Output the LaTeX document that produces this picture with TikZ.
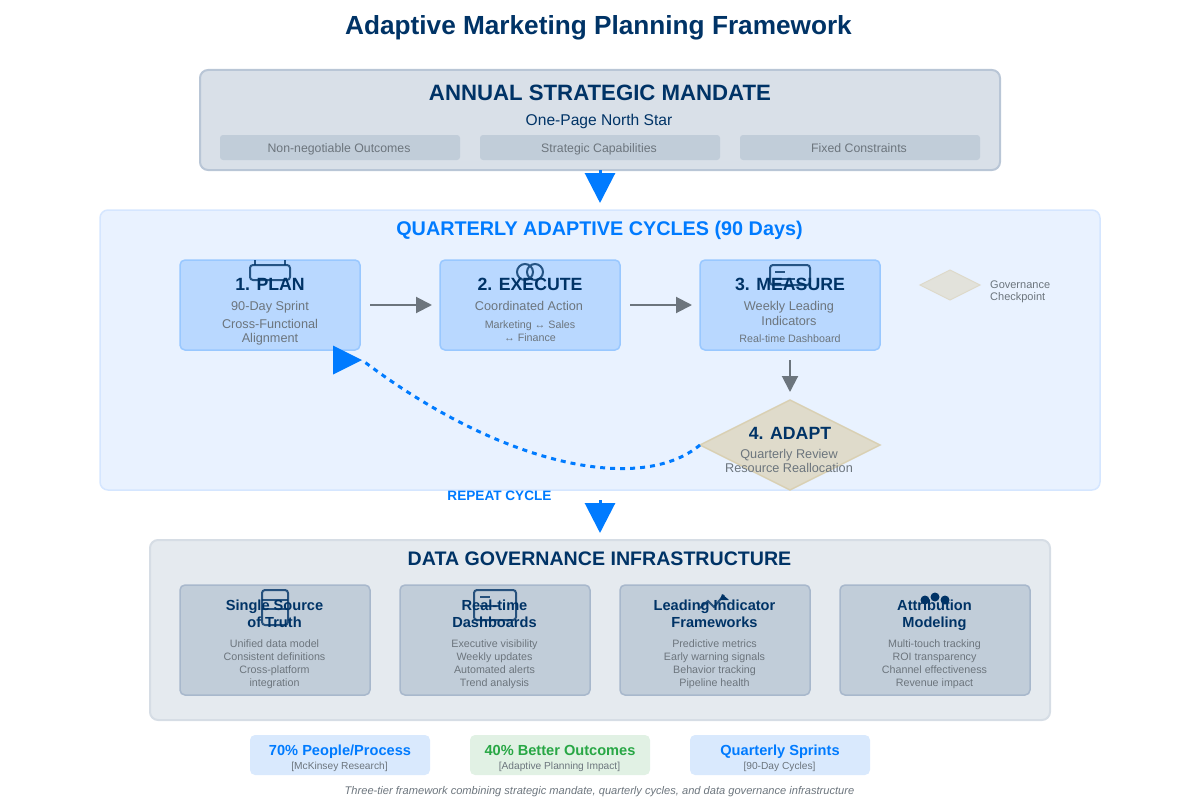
\documentclass[tikz,border=0pt]{standalone}
\usepackage{xcolor}
\usepackage{fontspec}
\setmainfont{Liberation Sans}
\usetikzlibrary{arrows.meta,shapes.geometric}
\definecolor{navy}{HTML}{003366}
\definecolor{brand}{HTML}{007BFF}
\definecolor{muted}{HTML}{6C757D}
\definecolor{tier}{HTML}{D9E0E8}
\definecolor{tierline}{HTML}{B9C6D6}
\definecolor{chip}{HTML}{C1CDD9}
\definecolor{cycle}{HTML}{E9F2FF}
\definecolor{cycleline}{HTML}{D5E6FF}
\definecolor{stepfill}{HTML}{B9D8FF}
\definecolor{stepline}{HTML}{99C8FF}
\definecolor{sand}{HTML}{DFDBCB}
\definecolor{sandline}{HTML}{D9D0B3}
\definecolor{datafill}{HTML}{E5EAEF}
\definecolor{dataline}{HTML}{D6DDE5}
\definecolor{cardline}{HTML}{A8B8CC}
\definecolor{statblue}{HTML}{D9E9FD}
\definecolor{statgreen}{HTML}{E1F1E4}
\definecolor{okgreen}{HTML}{28A745}
\newcommand{\fs}[2]{\fontsize{#1}{#2}\selectfont}
\tikzset{
  box/.style={rectangle,rounded corners=5pt,inner sep=0pt,outer sep=0pt,anchor=north west},
  steptext/.style={inner sep=0pt,anchor=base,align=center},
  stepbox/.style={box,fill=stepfill,draw=stepline,line width=1.5pt,minimum width=180pt,minimum height=90pt},
  cardbox/.style={box,fill=chip,draw=cardline,line width=1.5pt,minimum width=190pt,minimum height=110pt},
  chipbox/.style={box,rounded corners=3pt,fill=chip,minimum width=240pt,minimum height=25pt},
  statbox/.style={box,minimum width=180pt,minimum height=40pt},
  heading/.style={steptext,text=navy,font=\fs{17.7}{20}\bfseries},
  cardhead/.style={steptext,text=navy,font=\fs{14.6}{17}\bfseries},
  body/.style={steptext,text=muted,font=\fs{12.7}{14}},
  small/.style={steptext,text=muted,font=\fs{10.7}{13}},
  statsub/.style={steptext,text=muted,font=\fs{10.2}{12}},
  flowline/.style={draw=muted,line width=2pt,-{Triangle[length=16pt,width=16pt]},shorten <=10pt,shorten >=8pt},
  bigline/.style={draw=brand,line width=3pt,-{Triangle[length=30pt,width=30pt]}},
  icon/.style={draw=navy,line width=2pt,opacity=.8,rounded corners=3pt},
  x=1pt,y=-1pt
}
\begin{document}
\begin{tikzpicture}
  \useasboundingbox (0,0) rectangle (1200,800);
  \node[steptext,text=navy,font=\fs{26.2}{30}\bfseries] (title) at (598.5,35) {Adaptive Marketing Planning Framework};

  % annual tier
  \node[box,rounded corners=8pt,fill=tier,draw=tierline,line width=2pt,minimum width=800pt,minimum height=100pt] (mandate) at (200,70) {};
  \node[steptext,text=navy,font=\fs{22.2}{26}\bfseries] (mandatetitle) at (600,100) {ANNUAL STRATEGIC MANDATE};
  \node[steptext,text=navy,font=\fs{15.6}{18}] (mandatesub) at (599,125) {One-Page North Star};
  \node[chipbox] (chipa) at (220,135) {};
  \node[chipbox] (chipb) at (480,135) {};
  \node[chipbox] (chipc) at (740,135) {};
  \node[body,font=\fs{12.3}{14}] (chipatext) at (339,152) {Non-negotiable Outcomes};
  \node[body,font=\fs{12.3}{14}] (chipbtext) at (599,152) {Strategic Capabilities};
  \node[body,font=\fs{12.3}{14}] (chipctext) at (859,152) {Fixed Constraints};

  % quarterly tier
  \node[box,rounded corners=8pt,fill=cycle,draw=cycleline,line width=1.5pt,minimum width=1000pt,minimum height=280pt] (cycles) at (100,210) {};
  \node[steptext,text=brand,font=\fs{19.8}{24}\bfseries] (cyclestitle) at (599.5,235) {QUARTERLY ADAPTIVE CYCLES (90 Days)};
  \node[stepbox] (plan) at (180,260) {};
  \node[stepbox] (execute) at (440,260) {};
  \node[stepbox] (measure) at (700,260) {};
  \node[diamond,aspect=2,inner sep=0pt,outer sep=0pt,minimum width=180pt,minimum height=90pt,fill=sand,draw=sandline,line width=1.5pt] (adapt) at (790,445) {};
  \node[diamond,aspect=2,inner sep=0pt,outer sep=0pt,minimum width=60pt,minimum height=30pt,fill=sand!70!cycle,draw=sandline!70!cycle,line width=1pt] (checkpoint) at (950,285) {};
  \node[steptext,anchor=base west,align=left,text=muted,font=\fs{11}{12}] (checkpointtext) at (990,300) {Governance\\Checkpoint};

  % icons sit under the headings
  \draw[icon] (250,265) rectangle (290,280);
  \draw[icon,rounded corners=0pt] (255,260) -- (255,265) (285,260) -- (285,265);
  \draw[icon] (525,272) circle (8) (535,272) circle (8);
  \draw[icon] (770,265) rectangle (810,285);
  \draw[icon] (775,272) -- (785,272) (775,279) -- (795,279);

  \node[heading] (plantitle) at (270,290) {1. PLAN};
  \node[body] (plansub) at (270,310) {90-Day Sprint};
  \node[body] (plandetail) at (270,342) {Cross-Functional\\Alignment};
  \node[heading] (executetitle) at (530,290) {2. EXECUTE};
  \node[body] (executesub) at (529,310) {Coordinated Action};
  \node[small] (executedetail) at (530,341) {Marketing ↔ Sales\\↔ Finance};
  \node[heading] (measuretitle) at (790,290) {3. MEASURE};
  \node[body,font=\fs{12.7}{15}] (measuresub) at (789,325) {Weekly Leading\\Indicators};
  \node[small] (measuredetail) at (790,342) {Real-time Dashboard};
  \node[heading] (adapttitle) at (790,439) {4. ADAPT};
  \node[body] (adaptdetail) at (789,472) {Quarterly Review\\Resource Reallocation};

  \draw[flowline] (plan.east) -- (execute.west);
  \draw[flowline] (execute.east) -- (measure.west);
  \draw[flowline] (measure.south) -- (adapt.north);
  \node[isosceles triangle,isosceles triangle apex angle=60,isosceles triangle stretches,inner sep=0pt,outer sep=0pt,minimum width=29pt,minimum height=29pt,fill=brand,anchor=apex] (repeatmark) at (362,360) {};
  \draw[brand,line width=3pt,dash pattern=on 5pt off 5pt] (adapt.west) .. controls (640,495) and (500,465) .. (repeatmark.apex);
  \node[steptext,text=brand,font=\fs{13.6}{16}\bfseries] (repeattext) at (499.5,500) {REPEAT CYCLE};

  % data tier
  \node[box,rounded corners=8pt,fill=datafill,draw=dataline,line width=2pt,minimum width=900pt,minimum height=180pt] (data) at (150,540) {};
  \node[steptext,text=navy,font=\fs{19.6}{24}\bfseries] (datatitle) at (599.5,565) {DATA GOVERNANCE INFRASTRUCTURE};
  \node[cardbox] (source) at (180,585) {};
  \node[cardbox] (dashboards) at (400,585) {};
  \node[cardbox] (indicators) at (620,585) {};
  \node[cardbox] (attribution) at (840,585) {};

  \draw[icon] (262,590) rectangle (288,625);
  \draw[icon,rounded corners=0pt] (262,600) -- (288,600) (262,609) -- (288,609);
  \draw[icon] (474,590) rectangle (516,620);
  \draw[icon,rounded corners=0pt] (480,597) -- (490,597) (480,606) -- (500,606);
  \draw[icon,rounded corners=0pt] (700,608) -- (708,601) -- (714,607) -- (724,595);
  \fill[navy] (722,594) -- (729,600) -- (720,600) -- cycle;
  \fill[navy] (925,600) circle (4.5) (935,597) circle (4.5) (945,600) circle (4.5);

  \node[cardhead] (sourcetitle) at (274.5,627) {Single Source\\of Truth};
  \node[small] (sourcedetail) at (274.5,686) {Unified data model\\Consistent definitions\\Cross-platform\\integration};
  \node[cardhead] (dashboardstitle) at (494.5,627) {Real-time\\Dashboards};
  \node[small] (dashboardsdetail) at (494.5,686) {Executive visibility\\Weekly updates\\Automated alerts\\Trend analysis};
  \node[cardhead] (indicatorstitle) at (714.5,627) {Leading Indicator\\Frameworks};
  \node[small] (indicatorsdetail) at (714.5,686) {Predictive metrics\\Early warning signals\\Behavior tracking\\Pipeline health};
  \node[cardhead] (attributiontitle) at (934.5,627) {Attribution\\Modeling};
  \node[small] (attributiondetail) at (934.5,686) {Multi-touch tracking\\ROI transparency\\Channel effectiveness\\Revenue impact};

  % tier to tier
  \draw[bigline,shorten >=7pt] (mandate.south) -- (cycles.north);
  \draw[bigline,shorten <=10pt,shorten >=7pt] (cycles.south) -- (data.north);

  % stats
  \node[statbox,fill=statblue] (statpeople) at (250,735) {};
  \node[statbox,fill=statgreen] (statoutcomes) at (470,735) {};
  \node[statbox,fill=statblue] (statsprints) at (690,735) {};
  \node[cardhead] (peopletext) at (340,755) [text=brand] {70\% People/Process};
  \node[statsub] (peoplesub) at (339.5,769) {[McKinsey Research]};
  \node[cardhead] (outcomestext) at (560,755) [text=okgreen] {40\% Better Outcomes};
  \node[statsub] (outcomessub) at (559.5,769) {[Adaptive Planning Impact]};
  \node[cardhead] (sprintstext) at (780,755) [text=brand] {Quarterly Sprints};
  \node[statsub] (sprintssub) at (779.5,769) {[90-Day Cycles]};
  \node[steptext,text=muted,font=\fs{11.1}{13}\itshape] (footnote) at (599.5,794) {Three-tier framework combining strategic mandate, quarterly cycles, and data governance infrastructure};
\end{tikzpicture}
\end{document}
